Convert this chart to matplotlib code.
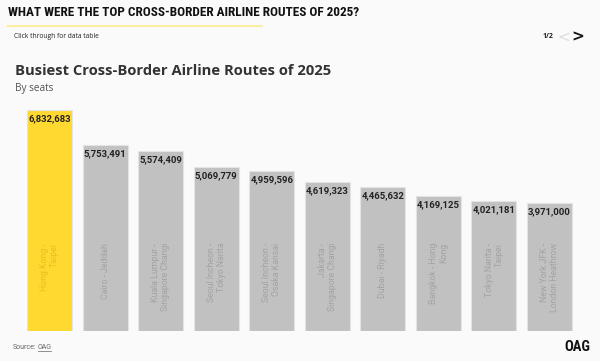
import matplotlib
matplotlib.use("Agg")
import matplotlib.pyplot as plt
from matplotlib import font_manager as fm

routes = ["Hong Kong -\nTaipei", "Cairo - Jeddah", "Kuala Lumpur -\nSingapore Changi",
          "Seoul Incheon -\nTokyo Narita", "Seoul Incheon -\nOsaka Kansai",
          "Jakarta -\nSingapore Changi", "Dubai - Riyadh", "Bangkok - Hong\nKong",
          "Tokyo Narita -\nTaipei", "New York JFK -\nLondon Heathrow"]
seats = [6832683, 5753491, 5574409, 5069779, 4959596,
         4619323, 4465632, 4169125, 4021181, 3971000]

# condensed font for the header if there is one, else Roboto a bit smaller
installed = {f.name for f in fm.fontManager.ttflist}
cond_fam, cond_size = "Roboto", 7.6
for n in ["Roboto Condensed", "Open Sans Condensed", "Liberation Sans Narrow",
          "DejaVu Sans Condensed"]:
    if n in installed:
        cond_fam, cond_size = n, 9.5
        break

bg = "#fafafa"
colors = ["#ffd92f"] + ["#c1c1c1"] * (len(seats) - 1)

fig = plt.figure(figsize=(6, 3.61), dpi=100, facecolor=bg)
ax = fig.add_axes([0.0362, 0.0831, 0.926, 0.627])
ax.set_facecolor(bg)

x = range(len(seats))
ax.bar(x, seats, width=0.81, color=colors, edgecolor="#e4e4e4", linewidth=0.8)
ax.set_xlim(-0.5, len(seats) - 0.5)
ax.set_ylim(0, 7000000)
ax.axis("off")

for i, (r, v) in enumerate(zip(routes, seats)):
    ax.annotate(f"{v:,}", (i, v), xytext=(0, -3), textcoords="offset points",
                ha="center", va="top", fontsize=6.8, fontweight="bold",
                color="#222222", family="Roboto")
    lc = "#e8c020" if i == 0 else "#a3a3a3"
    ax.text(i, 0.389, r, transform=ax.get_xaxis_transform(), rotation=90,
            ha="center", va="top", multialignment="right", fontsize=6.3,
            color=lc, family="Roboto", linespacing=1.1)

# header
fig.text(8 / 600, 1 - 12 / 361, "WHAT WERE THE TOP CROSS-BORDER AIRLINE ROUTES OF 2025?",
         fontsize=cond_size, fontweight="bold", family=cond_fam, color="#111111",
         va="center", ha="left")
fig.add_artist(plt.Line2D([8 / 600, 262 / 600], [1 - 25.5 / 361] * 2,
                          color="#fbeea2", linewidth=1.5))
fig.text(14 / 600, 1 - 36 / 361, "Click through for data table", fontsize=4.8,
         color="#222222", va="center", family="Open Sans")
fig.text(543 / 600, 1 - 37 / 361, "1/2", fontsize=5, fontweight="bold",
         color="#222222", va="center", family="Open Sans")
fig.text(564 / 600, 1 - 37 / 361, "<", fontsize=11, color="#dddddd",
         va="center", ha="center", family="DejaVu Sans")
fig.text(578 / 600, 1 - 37 / 361, ">", fontsize=11, fontweight="bold",
         color="#111111", va="center", ha="center", family="DejaVu Sans")

fig.text(15 / 600, 1 - 71 / 361, "Busiest Cross-Border Airline Routes of 2025",
         fontsize=10.6, fontweight="bold", color="#333333", va="center",
         family="Open Sans")
fig.text(15 / 600, 1 - 89 / 361, "By seats", fontsize=7.2, color="#555555",
         va="center", family="Open Sans")

# footer
fig.text(13 / 600, 1 - 347.5 / 361, "Source:", fontsize=5, color="#666666",
         va="center", family="Roboto")
fig.text(38 / 600, 1 - 347.5 / 361, "OAG", fontsize=5, color="#666666",
         va="center", family="Roboto")
fig.add_artist(plt.Line2D([38 / 600, 50.5 / 600], [1 - 351 / 361] * 2,
                          color="#666666", linewidth=0.5))
fig.text(590 / 600, 1 - 347 / 361, "OAG", fontsize=cond_size + 1, fontweight="bold",
         family=cond_fam, color="#111111", va="center", ha="right")

fig.savefig("out.png", dpi=100, facecolor=bg)
